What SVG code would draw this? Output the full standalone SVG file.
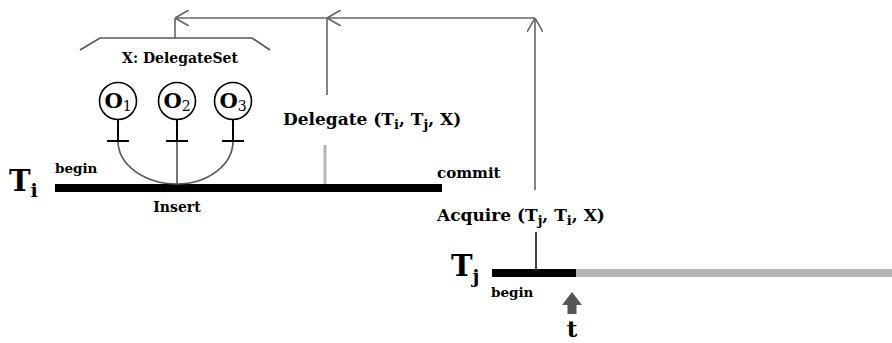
<svg xmlns="http://www.w3.org/2000/svg" width="892" height="343" viewBox="0 0 892 343">
  <defs>
    <marker id="chev" viewBox="0 0 14 16" refX="14" refY="8" markerWidth="14" markerHeight="16" markerUnits="userSpaceOnUse" orient="auto">
      <path d="M0,0 L14,8 L0,16" fill="none" stroke="#666" stroke-width="1.6"/>
    </marker>
    <style>
      text { font-family: "DejaVu Serif", "Liberation Serif", serif; font-weight: bold; fill: #000; }
      .conn { fill: none; stroke: #666; stroke-width: 1.6; }
      .bar { fill: #000; }
      .stem { stroke: #000; stroke-width: 2; fill: none; }
      .obj { fill: #fff; stroke: #000; stroke-width: 1.6; }
      .thin { fill: none; stroke: #555; stroke-width: 1.6; }
      .lite { stroke: #b3b3b3; stroke-width: 3; fill: none; }
      .lbl { font-size: 17px; }
      .sm { font-size: 13.5px; }
    </style>
  </defs>
  <rect width="892" height="343" fill="#fff"/>

  <!-- Transaction Ti -->
  <g id="Ti">
    <rect class="bar" x="55" y="184" width="387" height="8"/>
    <text x="9" y="191" font-size="29">T<tspan font-size="19" dy="6">i</tspan></text>
    <text class="sm" x="55" y="173">begin</text>
    <text font-size="15" x="437" y="178">commit</text>
    <text font-size="14" x="177" y="212" text-anchor="middle">Insert</text>
  </g>

  <!-- Transaction Tj -->
  <g id="Tj">
    <rect x="575" y="269" width="317" height="8" fill="#b3b3b3"/>
    <rect class="bar" x="492" y="269" width="84" height="8"/>
    <text x="451" y="276" font-size="29">T<tspan font-size="19" dy="7">j</tspan></text>
    <text class="sm" x="491" y="297">begin</text>
  </g>

  <!-- Delegate set X -->
  <g id="X">
    <polyline class="thin" points="80,50 100,38 252,38 270,50"/>
    <text font-size="14" x="180" y="63" text-anchor="middle">X: DelegateSet</text>
    <path class="thin" d="M118,141 A59,43 0 0 0 177,184 A56,43 0 0 0 233,141"/>
    <line class="thin" x1="177" y1="141" x2="177" y2="184"/>
    <g id="O1">
      <line class="stem" x1="118" y1="119" x2="118" y2="141"/>
      <line class="stem" x1="107" y1="141" x2="129" y2="141"/>
      <circle class="obj" cx="118" cy="101" r="18.5"/>
      <text x="118" y="108" text-anchor="middle" font-size="21">O<tspan font-size="14" font-weight="normal" dy="3">1</tspan></text>
    </g>
    <g id="O2">
      <line class="stem" x1="177" y1="119" x2="177" y2="141"/>
      <line class="stem" x1="166" y1="141" x2="188" y2="141"/>
      <circle class="obj" cx="177" cy="101" r="18.5"/>
      <text x="177" y="108" text-anchor="middle" font-size="21">O<tspan font-size="14" font-weight="normal" dy="3">2</tspan></text>
    </g>
    <g id="O3">
      <line class="stem" x1="233" y1="119" x2="233" y2="141"/>
      <line class="stem" x1="222" y1="141" x2="244" y2="141"/>
      <circle class="obj" cx="233" cy="101" r="18.5"/>
      <text x="233" y="108" text-anchor="middle" font-size="21">O<tspan font-size="14" font-weight="normal" dy="3">3</tspan></text>
    </g>
  </g>

  <!-- Time marker -->
  <g id="time">
    <path d="M572,292 L582,305 L576.5,305 L576.5,314 L567.5,314 L567.5,305 L562,305 Z" fill="#555"/>
    <text x="572" y="337" font-size="23" text-anchor="middle">t</text>
  </g>

  <!-- Connectors -->
  <g id="connectors">
    <line class="lite" x1="325" y1="145" x2="325" y2="184"/>
    <line x1="536" y1="232" x2="536" y2="270" stroke="#444" stroke-width="2"/>
    <path class="conn" d="M535,190 L535,18" marker-end="url(#chev)"/>
    <path class="conn" d="M535,18 L327,18" marker-end="url(#chev)"/>
    <path class="conn" d="M327,95 L327,18 L175,18" marker-end="url(#chev)"/>
    <path class="conn" d="M175,18 L175,38"/>
    <text class="lbl" x="283" y="125">Delegate (T<tspan font-size="13" dy="4">i</tspan><tspan dy="-4">, T</tspan><tspan font-size="13" dy="4">j</tspan><tspan dy="-4">, X)</tspan></text>
    <text class="lbl" x="437" y="221">Acquire (T<tspan font-size="13" dy="4">j</tspan><tspan dy="-4">, T</tspan><tspan font-size="13" dy="4">i</tspan><tspan dy="-4">, X)</tspan></text>
  </g>
</svg>
